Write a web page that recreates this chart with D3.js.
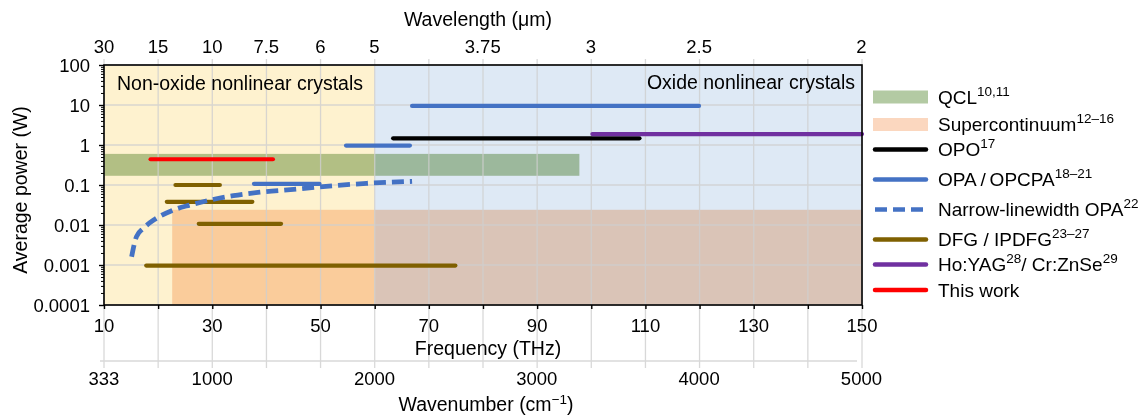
<!DOCTYPE html>
<html><head><meta charset="utf-8">
<script src="https://cdn.jsdelivr.net/npm/d3@7"></script>
<style>
body{margin:0;background:#fff;}
svg{font-family:"Liberation Sans",Arial,Helvetica,sans-serif;}
</style></head><body>
<svg id="c" width="1148" height="418"></svg>
<script>
// ---------------- data ----------------
const freqDomain = [10, 150];                 // THz
const powerDomain = [1e-4, 100];              // W
const powerTicks = [1e-4, 1e-3, 1e-2, 1e-1, 1, 10, 100];
const powerTickLabels = ["0.0001", "0.001", "0.01", "0.1", "1", "10", "100"];
const freqGrid = [10,20,30,40,50,60,70,80,90,100,110,120,130,140,150];
const freqTickLabels = [10, 30, 50, 70, 90, 110, 130, 150];
const wavelengthTickLabels = ["30", "15", "10", "7.5", "6", "5", "3.75", "3", "2.5", "2"];   // µm
const wavenumberTickLabels = [333, 1000, 2000, 3000, 4000, 5000];                          // cm^-1

const regionNames = ["Non-oxide nonlinear crystals", "Oxide nonlinear crystals"];
const regionFreqStart = [10, 60];
const regionFreqEnd = [60, 150];

const bandNames = ["QCL", "Supercontinuum"];
const bandFreqStart = [10, 22.6];
const bandFreqEnd = [97.8, 150];
const bandPowerLow = [0.17, 0.0001];
const bandPowerHigh = [0.6, 0.024];

// segments: [startTHz, endTHz, powerW]
const opoSegments = [[63.4, 108.9, 1.47]];
const opaSegments = [[66.9, 119.9, 9.5], [54.7, 66.5, 0.97], [37.7, 49.8, 0.107]];
const dfgSegments = [[23.2, 31.4, 0.1], [21.6, 37.4, 0.038], [27.5, 42.7, 0.0107], [17.8, 74.9, 0.00097]];
const hoSegments = [[100.2, 150, 1.88]];
const thisWorkSegments = [[18.6, 41.2, 0.44]];
const narrowFreq = [15.1, 16.0, 17.3, 19.4, 22.5, 25.9, 29.6, 33.9, 38.8, 45.0, 52.4, 58.5, 66.9];
const narrowPower = [0.0016, 0.0051, 0.0083, 0.0139, 0.0228, 0.0316, 0.042, 0.054, 0.066, 0.078, 0.096, 0.11, 0.123];

// ---------------- layout / style ----------------
const L = 104, R = 862, T = 65, B = 305;
const C_UM_THZ = 299.792458;
const FS_TICK = 18.5, FS_TITLE = 19.5, FS_LEG = 19, FS_SUP = 13.5;
const colors = {
  nonOxide: "#fef2cf", oxide: "#dee9f5",
  qcl: "#b3caa3", sc: "#fbd7bf",
  opo: "#000000", opa: "#4472c4", dfg: "#7f6000", ho: "#7030a0", tw: "#ff0000",
  grid: "#cfcfcf"
};

const svg = d3.select("#c");
const x = d3.scaleLinear().domain(freqDomain).range([L, R]);
const y = d3.scaleLog().domain(powerDomain).range([B, T]);

// regions
svg.append("g").selectAll("rect").data(regionNames).join("rect")
  .attr("x", (d,i) => x(regionFreqStart[i]))
  .attr("width", (d,i) => x(regionFreqEnd[i]) - x(regionFreqStart[i]))
  .attr("y", T).attr("height", B - T)
  .attr("fill", (d,i) => i === 0 ? colors.nonOxide : colors.oxide);

// bands (multiply blend)
svg.append("g").selectAll("rect").data(bandNames).join("rect")
  .attr("x", (d,i) => x(bandFreqStart[i]))
  .attr("width", (d,i) => x(bandFreqEnd[i]) - x(bandFreqStart[i]))
  .attr("y", (d,i) => y(bandPowerHigh[i]))
  .attr("height", (d,i) => y(bandPowerLow[i]) - y(bandPowerHigh[i]))
  .attr("fill", (d,i) => i === 0 ? colors.qcl : colors.sc)
  .style("mix-blend-mode", "multiply");

// grid
const grid = svg.append("g").attr("stroke", colors.grid).attr("stroke-width", 1.3).attr("opacity", 0.8);
grid.selectAll("line.v").data(freqGrid).join("line").attr("class","v")
  .attr("x1", d => x(d)).attr("x2", d => x(d)).attr("y1", T - 6).attr("y2", B);
grid.selectAll("line.h").data(powerTicks).join("line").attr("class","h")
  .attr("x1", L).attr("x2", R).attr("y1", d => y(d)).attr("y2", d => y(d));
// wavenumber axis (grey)
grid.selectAll("line.w").data(freqGrid).join("line").attr("class","w")
  .attr("x1", d => x(d)).attr("x2", d => x(d)).attr("y1", B).attr("y2", 368);
grid.append("line").attr("x1", L - 4).attr("x2", R - 5).attr("y1", 361).attr("y2", 361);

// line segments
function drawSegs(data, color) {
  svg.append("g").selectAll("line").data(data).join("line")
    .attr("x1", d => x(d[0])).attr("x2", d => x(d[1]))
    .attr("y1", d => y(d[2])).attr("y2", d => y(d[2]))
    .attr("stroke", color).attr("stroke-width", 4.2).attr("stroke-linecap", "round");
}
drawSegs(dfgSegments, colors.dfg);
drawSegs(opaSegments, colors.opa);
drawSegs(opoSegments, colors.opo);
drawSegs(hoSegments, colors.ho);
drawSegs(thisWorkSegments, colors.tw);

// narrow-linewidth OPA dashed curve
const line = d3.line().x(d => x(d[0])).y(d => y(d[1])).curve(d3.curveMonotoneX);
svg.append("path").datum(narrowFreq.map((f,i) => [f, narrowPower[i]]))
  .attr("d", line).attr("fill", "none").attr("stroke", colors.opa)
  .attr("stroke-width", 4.8).attr("stroke-dasharray", "12,6");

// frame
svg.append("rect").attr("x", L).attr("y", T).attr("width", R - L).attr("height", B - T)
  .attr("fill", "none").attr("stroke", "#000").attr("stroke-width", 1.6);

// left axis ticks
const minorTicks = [];
powerTicks.slice(0, -1).forEach(p => { for (let k = 2; k <= 9; k++) minorTicks.push(p * k); });
svg.append("g").attr("transform", `translate(${L},0)`)
  .call(d3.axisLeft(y).tickValues(minorTicks).tickSize(3).tickFormat(""))
  .call(g => g.select(".domain").remove());
svg.append("g").attr("transform", `translate(${L},0)`)
  .call(d3.axisLeft(y).tickValues(powerTicks).tickSize(5).tickFormat(""))
  .call(g => g.select(".domain").remove())
  .selectAll("line").attr("stroke-width", 1.4);
svg.append("g").selectAll("text").data(powerTicks).join("text")
  .attr("x", 90).attr("y", d => y(d)).attr("dy", "0.36em")
  .attr("text-anchor", "end").attr("font-size", FS_TICK)
  .text((d,i) => powerTickLabels[i]);

// bottom axis ticks
svg.append("g").attr("transform", `translate(0,${B})`)
  .call(d3.axisBottom(x).tickValues(freqGrid).tickSize(4).tickFormat(""))
  .call(g => g.select(".domain").remove())
  .selectAll("line").attr("stroke-width", 1.4);
svg.append("g").selectAll("text").data(freqTickLabels).join("text")
  .attr("x", d => x(d)).attr("y", 332).attr("text-anchor", "middle").attr("font-size", FS_TICK)
  .text(d => d);
svg.append("text").attr("x", x(80) + 5).attr("y", 355).attr("text-anchor", "middle")
  .attr("font-size", FS_TITLE).text("Frequency (THz)");

// wavenumber labels
svg.append("g").selectAll("text").data(wavenumberTickLabels).join("text")
  .attr("x", d => x(d * C_UM_THZ / 1e4)).attr("y", 385).attr("text-anchor", "middle").attr("font-size", FS_TICK)
  .text(d => d);
const wt = svg.append("text").attr("x", x(80) + 3).attr("y", 411).attr("text-anchor", "middle").attr("font-size", FS_TITLE);
wt.append("tspan").text("Wavenumber (cm");
wt.append("tspan").attr("dy", -7.5).attr("font-size", FS_SUP).text("\u22121");
wt.append("tspan").attr("dy", 7.5).text(")");

// top wavelength labels
svg.append("g").selectAll("text").data(wavelengthTickLabels).join("text")
  .attr("x", d => x(C_UM_THZ / +d)).attr("y", 53).attr("text-anchor", "middle").attr("font-size", FS_TICK)
  .text(d => d);
svg.append("text").attr("x", 478).attr("y", 26).attr("text-anchor", "middle")
  .attr("font-size", FS_TITLE).text("Wavelength (\u03bcm)");

// y title
svg.append("text").attr("transform", "translate(27,190) rotate(-90)").attr("text-anchor", "middle")
  .attr("font-size", FS_TITLE).text("Average power (W)");

// region annotations
svg.append("text").attr("x", x(regionFreqStart[0]) + 13).attr("y", 90).attr("font-size", 19.5).text(regionNames[0]);
svg.append("text").attr("x", x(regionFreqEnd[1]) - 7).attr("y", 89).attr("text-anchor", "end").attr("font-size", 19.5).text(regionNames[1]);

// legend
const legendItems = [
  {type: "rect", color: colors.qcl, label: "QCL", sup: "10,11", y: 97},
  {type: "rect", color: colors.sc, label: "Supercontinuum", sup: "12\u201316", y: 124.5},
  {type: "line", color: colors.opo, label: "OPO", sup: "17", y: 149.5},
  {type: "line", color: colors.opa, label: "OPA\u2009/\u2009OPCPA", sup: "18\u201321", y: 179.5},
  {type: "dash", color: colors.opa, label: "Narrow-linewidth OPA", sup: "22", y: 209.5},
  {type: "line", color: colors.dfg, label: "DFG / IPDFG", sup: "23\u201327", y: 239.5},
  {type: "line", color: colors.ho, label: "Ho:YAG", sup: "28", extra: "/ Cr:ZnSe", sup2: "29", y: 264.5},
  {type: "line", color: colors.tw, label: "This work", sup: "", y: 290}
];
const lg = svg.append("g");
legendItems.forEach(it => {
  if (it.type === "rect") {
    lg.append("rect").attr("x", 873).attr("y", it.y - 6.5).attr("width", 55).attr("height", 13).attr("fill", it.color);
  } else {
    lg.append("line").attr("x1", 875).attr("x2", 926).attr("y1", it.y).attr("y2", it.y)
      .attr("stroke", it.color).attr("stroke-width", 4.5)
      .attr("stroke-linecap", it.type === "dash" ? "butt" : "round")
      .attr("stroke-dasharray", it.type === "dash" ? "12,6" : null);
  }
  const t = lg.append("text").attr("x", 938).attr("y", it.y + 6.5).attr("font-size", FS_LEG);
  t.append("tspan").text(it.label);
  if (it.sup) t.append("tspan").attr("dy", -8).attr("font-size", FS_SUP).text(it.sup);
  if (it.extra) {
    t.append("tspan").attr("dy", 8).text(it.extra);
    t.append("tspan").attr("dy", -8).attr("font-size", FS_SUP).text(it.sup2);
  }
});
</script>
</body></html>
